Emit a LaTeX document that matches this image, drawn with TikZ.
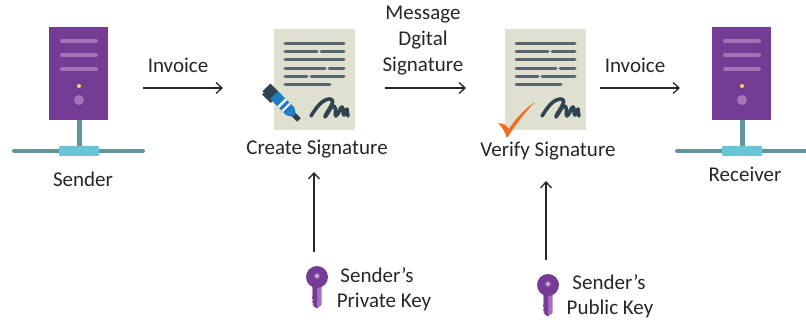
\documentclass[tikz,border=0pt]{standalone}
\usepackage{fontspec}
\setmainfont{Carlito}
\usetikzlibrary{arrows.meta}
\definecolor{srvpurple}{HTML}{743C95}
\definecolor{srvline}{HTML}{A673B8}
\definecolor{srvled}{HTML}{FFD54A}
\definecolor{nettube}{HTML}{5F969E}
\definecolor{netbox}{HTML}{6BC5D8}
\definecolor{docpaper}{HTML}{E0E0D1}
\definecolor{docline}{HTML}{5A6670}
\definecolor{signink}{HTML}{2F4350}
\definecolor{penblue}{HTML}{1F7EC2}
\definecolor{checkorange}{HTML}{F26B21}
\definecolor{keypurple}{HTML}{743C95}
\definecolor{keylight}{HTML}{A66FBD}
\definecolor{labelgray}{HTML}{262626}

% styles
\tikzset{label/.style={text=labelgray, font=\fontsize{21}{23}\selectfont, inner sep=0, align=center},
         flow/.style={draw=black!85, line width=1.5pt, -{Straight Barb[length=6pt,width=11pt,line width=1.3pt]}},
         srvbar/.style={srvline, line width=4pt, line cap=round},
         docbar/.style={docline, line width=3pt, line cap=round},
         nettube/.style={draw=nettube, line width=4pt, line cap=round}
}

% server with its network bar, (0,0) is the top left corner of the case
\newcommand{\serverpic}[3]{
\begin{scope}[shift={(#1,#2)}]
    \node[fill=srvpurple, minimum width=59pt, minimum height=93pt, inner sep=0, anchor=north west] (#3) at (0,0) {};
    \foreach \y in {14,28,42.5}
        \draw[srvbar] (13,\y) -- (47,\y);
    \fill[srvled] (30,59) circle (2pt);
    \fill[srvline] (30,73) circle (5pt);
    \draw[nettube, line cap=butt, line width=5pt] (30,93) -- (30,120);
    \draw[nettube] (-35,124) -- (94,124);
    \fill[netbox, rounded corners=1pt] (10,119) rectangle (50,129);
\end{scope}
}

% sheet with text lines and a signature, (0,0) is the top left corner of the paper
\newcommand{\sheetpic}[3]{
\begin{scope}[shift={(#1,#2)}]
    \node[fill=docpaper, minimum width=81pt, minimum height=101pt, inner sep=0, anchor=north west] (#3) at (0,0) {};
    \draw[docbar] (11,14.5) -- (70,14.5);
    \draw[docbar] (11,23) -- (43,23) (47,23) -- (70,23);
    \draw[docbar] (11,31) -- (70,31);
    \draw[docbar] (11,39.5) -- (51,39.5) (55,39.5) -- (70,39.5);
    \draw[docbar] (11,48) -- (33,48) (37,48) -- (70,48);
    \draw[docbar] (11,56) -- (56,56);
    \draw[signink, line width=3.6pt, line cap=round, line join=round]
        (37,87) .. controls (42,79) and (48,70) .. (56,70)
        .. controls (64,71) and (51,84) .. (51,88)
        .. controls (54,85) and (57,76) .. (60,77)
        .. controls (63,79) and (60,86) .. (62,87)
        .. controls (65,85) and (66,78) .. (68,78)
        .. controls (70,79) and (68,85) .. (70,86)
        .. controls (72,85) and (72,80) .. (73,80)
        .. controls (74,83) and (73,86) .. (74,87);
\end{scope}
}

% key, (0,0) is the centre of the bow
\newcommand{\keypic}[3]{
\begin{scope}[shift={(#1,#2)}]
    \fill[keylight] (-4.5,8) -- (4.5,8) -- (4.5,28) -- (0,31.5) -- (-4.5,28) -- cycle;
    \fill[keypurple] (-4.5,8) -- (0,8) -- (0,31.5) -- (-3.5,29) -- (-3.5,26) -- (-5,25) -- (-3.5,23) -- (-5,21) -- (-4.5,19) -- cycle;
    \node[circle, fill=keypurple, minimum size=22pt, inner sep=0] (#3) at (0,0) {};
    \fill[keylight] (0,-1) circle (3pt);
    \fill[white!85!keypurple] (0,-1) circle (1.3pt);
\end{scope}
}

\begin{document}
\begin{tikzpicture}[x=1pt,y=-1pt]
    \useasboundingbox (0,0) rectangle (806,320);

    % servers
    \serverpic{49}{27}{sender}
    \serverpic{712}{27}{receiver}

    % sheets
    \sheetpic{274}{29}{createdoc}
    \sheetpic{505}{29}{verifydoc}

    % pen on the first sheet
    \begin{scope}[shift={(282,103)}, rotate=-45]
        \fill[signink] (-22,-5.5) rectangle (-11,5.5);
        \fill[signink] (-20,5) rectangle (-8,8);
        \fill[penblue] (-11,-5.5) rectangle (12,5.5);
        \fill[white] (-1,-5.5) rectangle (1.5,5.5);
        \fill[white] (5,-5.5) rectangle (7,5.5);
        \fill[penblue] (12,-5.5) -- (17,-2.5) -- (17,2.5) -- (12,5.5) -- cycle;
        \fill[signink] (17,-2.5) rectangle (24,2.5);
    \end{scope}

    % check mark on the second sheet
    \fill[checkorange] (498,123) -- (505,124.5) -- (509,129)
        .. controls (516,118) and (525,109) .. (535,102)
        .. controls (526,111) and (516,124) .. (507,138)
        .. controls (505,132) and (502,127) .. (498,123) -- cycle;

    % keys
    \keypic{317}{277}{privkey}
    \keypic{548}{285}{pubkey}

    % labels
    \node[label] (senderlbl)  at (83,179)   {Sender};
    \node[label] (receiverlbl) at (745,174) {Receiver};
    \node[label] (invoicea)   at (178,65)   {Invoice};
    \node[label] (invoiceb)   at (635,65)   {Invoice};
    \node[label] (msglbl)     at (423,15)   {Message};
    \node[label] (dgitallbl)  at (423,40)   {Dgital};
    \node[label] (signlbl)    at (423,66)   {Signature};
    \node[label] (createlbl)  at (317,149)  {Create Signature};
    \node[label] (verifylbl)  at (548,151)  {Verify Signature};
    \node[label] (privlbla)   at (377,275)  {Sender’s};
    \node[label] (privlblb)   at (384,302)  {Private Key};
    \node[label] (publbla)    at (609,282)  {Sender’s};
    \node[label] (publblb)    at (610,309)  {Public Key};

    % free ends of the connectors
    \coordinate (a1) at (143,88);
    \coordinate (a2) at (223,88);
    \coordinate (b1) at (385,88);
    \coordinate (b2) at (466,88);
    \coordinate (c1) at (600,88);
    \coordinate (c2) at (680,88);
    \coordinate (d1) at (314,252);
    \coordinate (d2) at (314,172);
    \coordinate (e1) at (546,260);
    \coordinate (e2) at (546,181);

    \draw[flow] (a1) -- (a2);
    \draw[flow] (b1) -- (b2);
    \draw[flow] (c1) -- (c2);
    \draw[flow] (d1) -- (d2);
    \draw[flow] (e1) -- (e2);
\end{tikzpicture}
\end{document}
